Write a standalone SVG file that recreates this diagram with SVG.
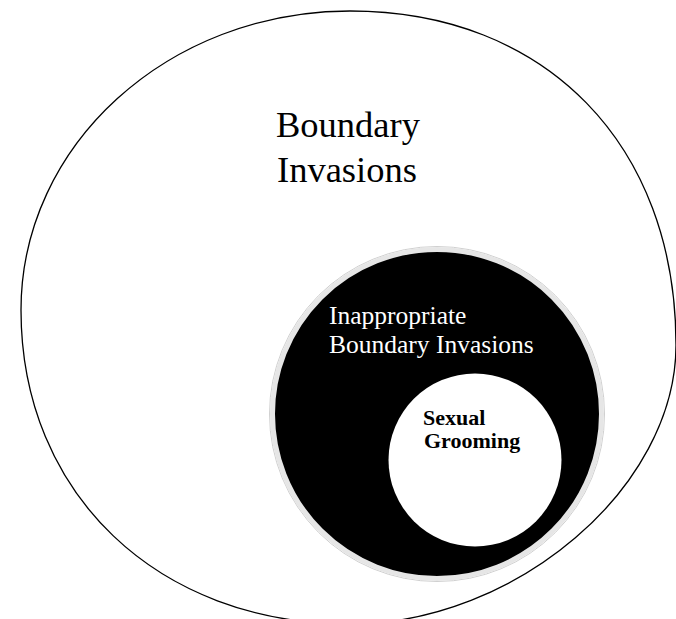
<svg xmlns="http://www.w3.org/2000/svg" width="676" height="619" viewBox="0 0 676 619">
<style>
.outer{fill:none;stroke:#000;stroke-width:1.3}
.t{font-family:"Liberation Serif","Times New Roman",serif}
</style>
<rect width="676" height="619" fill="#fff"/>
<g id="boundary-invasions">
<path class="outer" d="M350,11 C545.6,11 676,144.6 676,345 C676,487.3 516.3,624 350,624 C157.5,624 21,493.7 21,310 C21,144.9 168.3,11 350,11 Z"/>
<text class="t" font-size="36.5" fill="#000"><tspan x="276" y="137">Boundary</tspan><tspan x="277" y="182">Invasions</tspan></text>
</g>
<g id="inappropriate">
<circle cx="437" cy="414" r="167.5" fill="none" stroke="#cfcfcf" stroke-width="1"/>
<circle cx="437" cy="414" r="164.5" fill="#000" stroke="#e6e6e6" stroke-width="5"/>
<text class="t" font-size="25.5" fill="#fff"><tspan x="329" y="324">Inappropriate</tspan><tspan x="329" y="353">Boundary Invasions</tspan></text>
</g>
<g id="sexual-grooming">
<circle cx="475" cy="460" r="86.5" fill="#fff"/>
<text class="t" font-size="22" font-weight="bold" fill="#000"><tspan x="423" y="425">Sexual</tspan><tspan x="424" y="448">Grooming</tspan></text>
</g>
<g id="connectors"/>
</svg>
